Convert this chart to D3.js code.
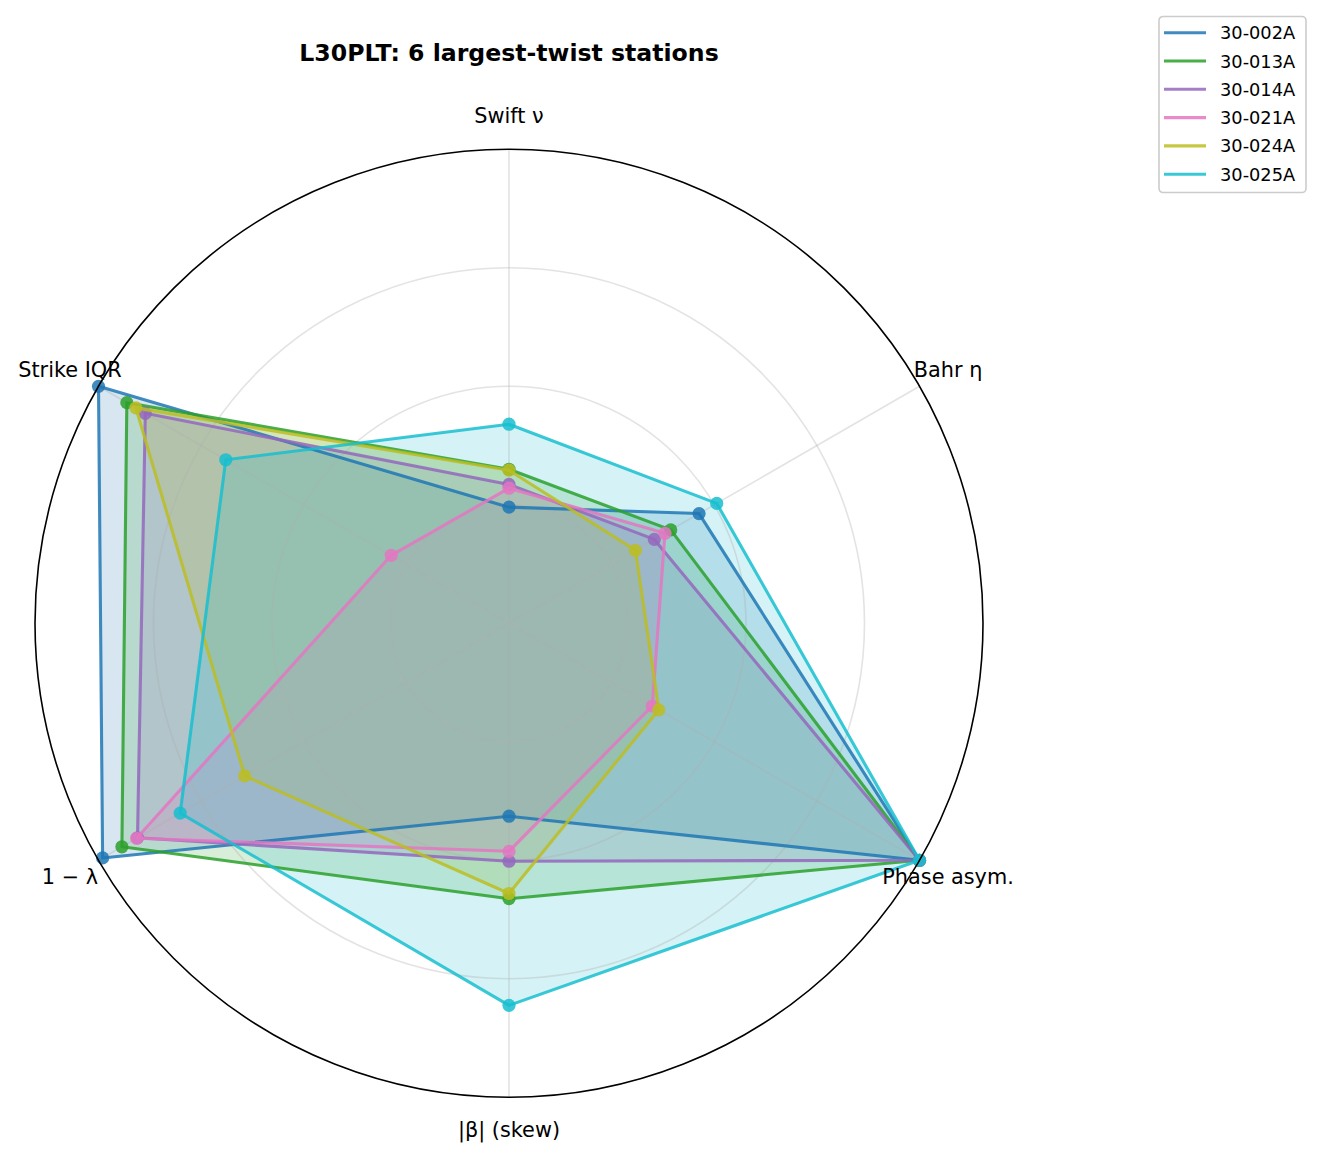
<!DOCTYPE html>
<html>
<head>
<meta charset="utf-8">
<script src="https://cdn.jsdelivr.net/npm/d3@7"></script>
<style>
    body { margin: 0; background: #fff; }
    text { font-family: "DejaVu Sans", sans-serif; fill: #000; }
</style>
</head>
<body>
<svg id="chart" width="1323" height="1159"></svg>
<script>
"use strict";

// axes, clockwise from the top
var axisLabels = ["Swift ν", "Bahr η", "Phase asym.", "|β| (skew)", "1 − λ", "Strike IQR"];
var stations = ["30-002A", "30-013A", "30-014A", "30-021A", "30-024A", "30-025A"];
var colors = ["#1f77b4", "#2ca02c", "#9467bd", "#e377c2", "#bcbd22", "#17becf"];

// normalised values, one row per station, same order as axisLabels
var v002A = [0.245, 0.463, 1.0, 0.407, 0.99, 1.0];
var v013A = [0.325, 0.394, 1.0, 0.581, 0.943, 0.931];
var v014A = [0.293, 0.354, 1.0, 0.502, 0.905, 0.886];
var v021A = [0.285, 0.380, 0.349, 0.481, 0.907, 0.287];
var v024A = [0.323, 0.308, 0.365, 0.570, 0.644, 0.909];
var v025A = [0.420, 0.506, 1.0, 0.806, 0.801, 0.690];
var gridTicks = [0.25, 0.5, 0.75];

var seriesValues = [v002A, v013A, v014A, v021A, v024A, v025A];

var svg = d3.select("#chart");
var cx = 509, cy = 623.3, R = 474;

var rScale = d3.scaleLinear().domain([0, 1]).range([0, R]);
var aScale = d3.scalePoint()
    .domain(d3.range(axisLabels.length + 1))
    .range([0, 2 * Math.PI]);

var g = svg.append("g").attr("transform", "translate(" + cx + "," + cy + ")");

var radial = d3.lineRadial()
    .angle(function (d, i) { return aScale(i); })
    .radius(function (d) { return rScale(d); })
    .curve(d3.curveLinearClosed);

// fills underneath everything
g.selectAll("path.fill")
    .data(seriesValues)
    .enter()
    .append("path")
    .attr("class", "fill")
    .attr("d", radial)
    .attr("fill", function (d, i) { return colors[i]; })
    .attr("fill-opacity", 0.18)
    .attr("stroke", "none");

// grid: circles + spokes
g.selectAll("circle.grid")
    .data(gridTicks)
    .enter()
    .append("circle")
    .attr("r", function (d) { return rScale(d); })
    .attr("fill", "none")
    .attr("stroke", "#b0b0b0")
    .attr("stroke-opacity", 0.35)
    .attr("stroke-width", 1.6);

g.selectAll("line.spoke")
    .data(axisLabels)
    .enter()
    .append("line")
    .attr("x1", 0).attr("y1", 0)
    .attr("x2", function (d, i) { return rScale(1) * Math.sin(aScale(i)); })
    .attr("y2", function (d, i) { return -rScale(1) * Math.cos(aScale(i)); })
    .attr("stroke", "#b0b0b0")
    .attr("stroke-opacity", 0.35)
    .attr("stroke-width", 1.6);

// lines and markers per station (alpha on each mark, like matplotlib)
var series = g.selectAll("g.series")
    .data(seriesValues)
    .enter()
    .append("g");

series.append("path")
    .attr("d", radial)
    .attr("fill", "none")
    .attr("stroke", function (d, i) { return colors[i]; })
    .attr("stroke-opacity", 0.85)
    .attr("stroke-width", 3.1)
    .attr("stroke-linejoin", "round");

series.each(function (vals, si) {
    d3.select(this).selectAll("circle")
        .data(vals)
        .enter()
        .append("circle")
        .attr("cx", function (d, i) { return rScale(d) * Math.sin(aScale(i)); })
        .attr("cy", function (d, i) { return -rScale(d) * Math.cos(aScale(i)); })
        .attr("r", 6.6)
        .attr("fill", colors[si])
        .attr("fill-opacity", 0.85);
});

// outer spine
g.append("circle")
    .attr("r", rScale(1))
    .attr("fill", "none")
    .attr("stroke", "#000")
    .attr("stroke-width", 1.6);

// axis labels
g.selectAll("text.axis")
    .data(axisLabels)
    .enter()
    .append("text")
    .attr("x", function (d, i) { return (R + 33) * Math.sin(aScale(i)); })
    .attr("y", function (d, i) { return -(R + 33) * Math.cos(aScale(i)); })
    .attr("text-anchor", "middle")
    .attr("dominant-baseline", "central")
    .style("font-size", "20.8px")
    .text(function (d) { return d; });

// title
svg.append("text")
    .attr("x", 509)
    .attr("y", 53)
    .attr("text-anchor", "middle")
    .attr("dominant-baseline", "central")
    .style("font-size", "23.6px")
    .style("font-weight", "bold")
    .text("L30PLT: 6 largest-twist stations");

// legend
var legend = svg.append("g").attr("transform", "translate(1159,16.5)");
legend.append("rect")
    .attr("width", 147)
    .attr("height", 176)
    .attr("rx", 4)
    .attr("fill", "#fff")
    .attr("stroke", "#cccccc")
    .attr("stroke-width", 1.6);

var rows = legend.selectAll("g.row")
    .data(stations)
    .enter()
    .append("g")
    .attr("transform", function (d, i) { return "translate(0," + (16.2 + i * 28.3) + ")"; });

rows.append("line")
    .attr("x1", 5).attr("x2", 47)
    .attr("stroke", function (d, i) { return colors[i]; })
    .attr("stroke-opacity", 0.85)
    .attr("stroke-width", 3.1);

rows.append("text")
    .attr("x", 61)
    .attr("dominant-baseline", "central")
    .style("font-size", "17.8px")
    .text(function (d) { return d; });
</script>
</body>
</html>
